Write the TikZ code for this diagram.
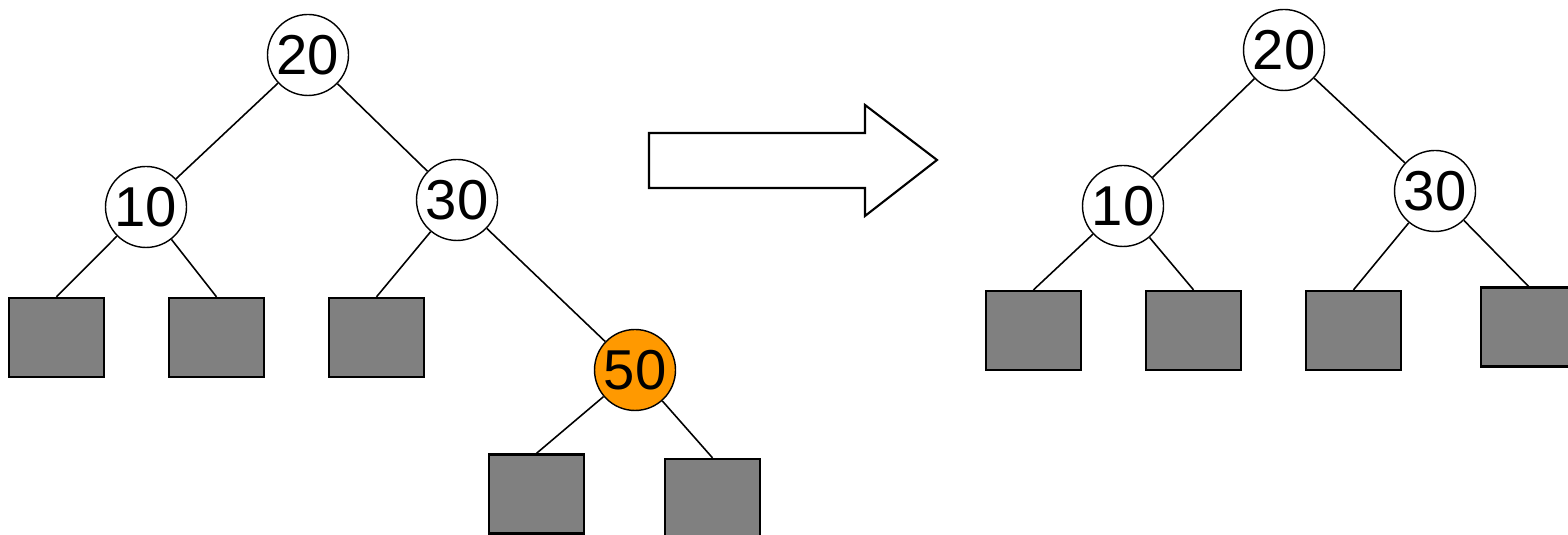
\documentclass[tikz,border=0pt]{standalone}
\usepackage{fontspec}
\setmainfont{Liberation Sans}
\usepackage{xcolor}
\definecolor{colHit}{HTML}{FF9900}
\definecolor{colLeaf}{HTML}{808080}
\usepackage{tikz}
\usetikzlibrary{positioning}

\begin{document}
\begin{tikzpicture}[
		key/.style={draw, circle, line width=0.4pt, fill=white, minimum size=0.81cm,
			inner sep=0pt, font=\fontsize{16}{19}\selectfont},
		leaf/.style={draw, line width=0.65pt, fill=colLeaf, minimum width=0.95cm,
			minimum height=0.79cm, inner sep=0pt},
		edge/.style={line width=0.45pt}
	]
	\useasboundingbox (0,0) rectangle (15.68,5.35);
	\clip (0,0) rectangle (15.68,5.35);

	% ===== Before: 50 still in the tree =====
	\node[key]                (l20) at (3.08,4.80) {20};
	\node[key]                (l10) at (1.46,3.28) {10};
	\node[key]                (l30) at (4.57,3.35) {30};
	\node[key, fill=colHit]   (l50) at (6.35,1.65) {50};
	\node[leaf] (lb1) at (0.565,1.975) {};
	\node[leaf] (lb2) at (2.165,1.975) {};
	\node[leaf] (lb3) at (3.765,1.975) {};
	\node[leaf] (lb4) at (5.365,0.41)  {};
	\node[leaf] (lb5) at (7.125,0.365) {};

	\draw[edge] (l20) -- (l10);
	\draw[edge] (l20) -- (l30);
	\draw[edge] (l10) -- (lb1.north);
	\draw[edge] (l10) -- (lb2.north);
	\draw[edge] (l30) -- (lb3.north);
	\draw[edge] (l30) -- (l50);
	\draw[edge] (l50) -- (lb4.north);
	\draw[edge] (l50) -- (lb5.north);

	% ===== Block arrow between the two trees =====
	\draw[line width=0.6pt, fill=white]
		(6.49,4.02) -- (8.65,4.02) -- (8.65,4.30) -- (9.37,3.75)
		-- (8.65,3.19) -- (8.65,3.47) -- (6.49,3.47) -- cycle;

	% ===== After: 50 removed =====
	\node[key] (r20) at (12.84,4.85) {20};
	\node[key] (r10) at (11.23,3.29) {10};
	\node[key] (r30) at (14.35,3.44) {30};
	\node[leaf] (rb1) at (10.335,2.045) {};
	\node[leaf] (rb2) at (11.935,2.045) {};
	\node[leaf] (rb3) at (13.535,2.045) {};
	\node[leaf] (rb4) at (15.285,2.08)  {};

	\draw[edge] (r20) -- (r10);
	\draw[edge] (r20) -- (r30);
	\draw[edge] (r10) -- (rb1.north);
	\draw[edge] (r10) -- (rb2.north);
	\draw[edge] (r30) -- (rb3.north);
	\draw[edge] (r30) -- (rb4.north);
\end{tikzpicture}
\end{document}
